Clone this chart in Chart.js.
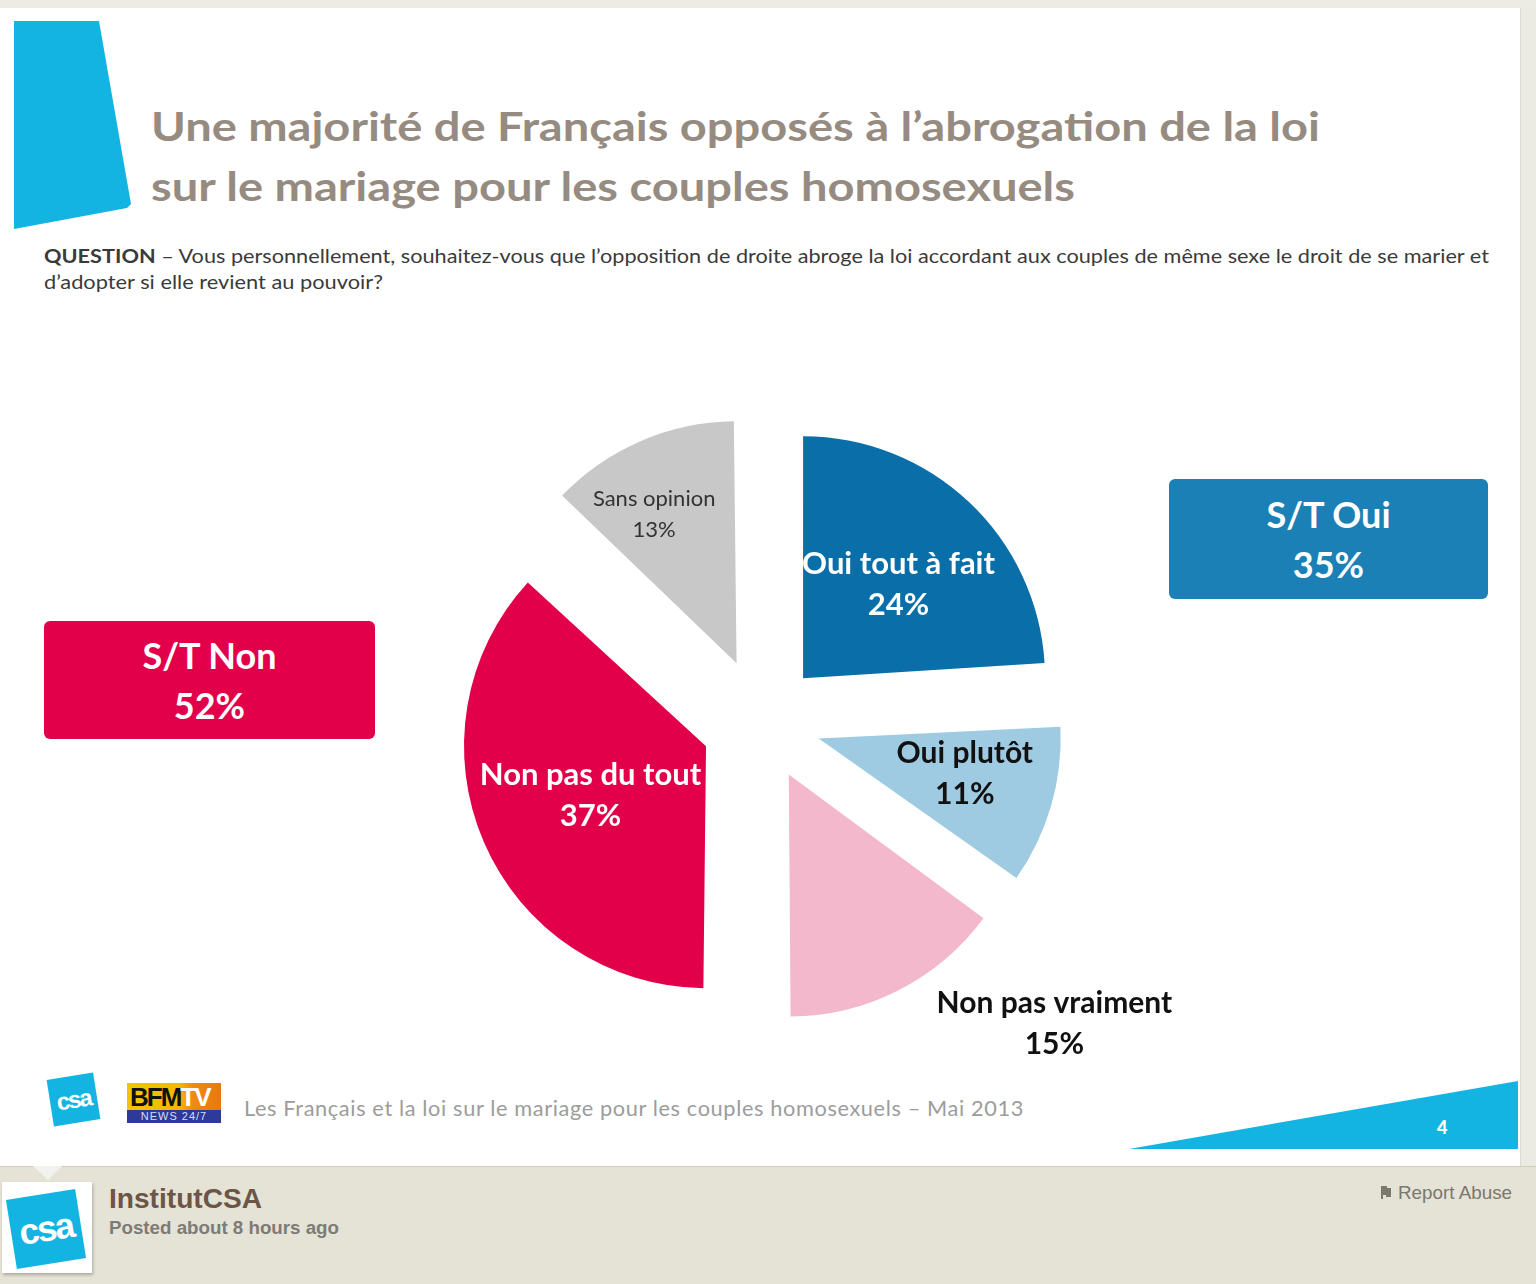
<!DOCTYPE html>
<html lang="fr">
<head>
<meta charset="utf-8">
<script src="https://cdn.jsdelivr.net/npm/chart.js@4/dist/chart.umd.min.js"></script>
<style>
  html,body{margin:0;padding:0;}
  body{width:1536px;height:1284px;position:relative;overflow:hidden;background:#e5e2d6;font-family:Lato,"Open Sans",sans-serif;}
  .abs{position:absolute;white-space:nowrap;}
  #topstrip{left:0;top:0;width:1536px;height:8px;background:#ecebe4;}
  #rightstrip{left:1520px;top:8px;width:16px;height:1158px;background:#ebeae3;border-left:1px solid #dcdbd3;}
  #slide{left:0;top:8px;width:1520px;height:1158px;background:#fff;}
  #footline{left:0;top:1166px;width:1536px;height:1px;background:#cfccc1;}
  .title{font-weight:700;font-size:40px;line-height:40px;color:#968b81;}
  .question{font-size:19px;line-height:26px;color:#3a3a3a;}
  .box{border-radius:6px;color:#fff;font-weight:700;font-size:36px;line-height:50px;text-align:center;display:flex;flex-direction:column;justify-content:center;align-items:center;}
  .box span{display:block;}
  #foottext{font-size:21px;line-height:28px;color:#9c9c9c;letter-spacing:0.6px;}
  .csa{background:#14b4e2;color:#fff;font-family:"Liberation Sans",Arial,sans-serif;font-weight:700;display:flex;align-items:center;justify-content:center;letter-spacing:-2px;}
  #author{font-family:"Liberation Sans",Arial,sans-serif;font-weight:700;font-size:28px;line-height:32px;color:#6b5647;}
  #posted{font-family:"Liberation Sans",Arial,sans-serif;font-weight:700;font-size:18.7px;line-height:22px;color:#7d7b76;}
  #report{font-family:"Liberation Sans",Arial,sans-serif;font-size:18.6px;line-height:22px;color:#7b786d;}
  #chartwrap{left:332px;top:352px;width:860px;height:740px;}
</style>
</head>
<body>
<div class="abs" id="topstrip"></div>
<div class="abs" id="slide"></div>
<div class="abs" id="rightstrip"></div>
<div class="abs" id="footline"></div>

<svg class="abs" style="left:0;top:0" width="1536" height="1284">
  <polygon points="14,21 99,21 131,204 127,208 14,229" fill="#14b4e2"/>
  <polygon points="1129,1149 1518,1081 1518,1149" fill="#14b4e2"/>
  <polygon points="33,1166 62,1166 48,1180" fill="#f3f2ee"/>
</svg>
<div class="abs" style="left:1437px;top:1117px;font-weight:900;font-size:18px;line-height:20px;color:#fff;">4</div>

<div class="abs title" id="t1" data-w="1169" style="left:151px;top:106px;">Une majorité de Français opposés à l’abrogation de la loi</div>
<div class="abs title" id="t2" data-w="924" style="left:151px;top:166px;">sur le mariage pour les couples homosexuels</div>

<div class="abs question" data-w="1445" style="left:44px;top:243px;"><b>QUESTION</b> – Vous personnellement, souhaitez-vous que l’opposition de droite abroge la loi accordant aux couples de même sexe le droit de se marier et</div>
<div class="abs question" data-w="339" style="left:44px;top:269px;">d’adopter si elle revient au pouvoir?</div>

<div class="abs box" style="left:44px;top:621px;width:331px;height:118px;background:#e2004a;"><span>S/T Non</span><span>52%</span></div>
<div class="abs box" style="left:1169px;top:479px;width:319px;height:120px;background:#1a80b6;"><span>S/T Oui</span><span>35%</span></div>

<div class="abs" id="chartwrap"><canvas id="c" width="860" height="740"></canvas></div>

<!-- slide footer -->
<div class="abs csa" style="left:50px;top:1076px;width:47px;height:47px;font-size:24px;transform:rotate(-9deg);">csa</div>
<div class="abs" style="left:127px;top:1083px;width:94px;height:40px;">
  <div style="position:absolute;left:0;top:0;width:94px;height:27px;background:linear-gradient(90deg,#f5c400 0%,#f5b800 55%,#ef8a12 70%,#e8780f 100%);"></div>
  <div style="position:absolute;left:3px;top:0;font-family:'Liberation Sans',Arial,sans-serif;font-weight:900;font-size:26px;line-height:28px;color:#111;letter-spacing:-2px;">BFM<span style="color:#fff;">TV</span></div>
  <div style="position:absolute;left:0;top:27px;width:94px;height:13px;background:#2d3a99;color:#d6dcff;font-family:'Liberation Sans',Arial,sans-serif;font-size:11px;line-height:13px;text-align:center;letter-spacing:1px;">NEWS 24/7</div>
</div>
<div class="abs" id="foottext" data-w="780" style="left:244px;top:1094px;">Les Français et la loi sur le mariage pour les couples homosexuels – Mai 2013</div>

<!-- page footer -->
<div class="abs" style="left:2px;top:1182px;width:90px;height:91px;background:#fff;box-shadow:1px 2px 3px rgba(0,0,0,0.25);"></div>
<div class="abs csa" style="left:11px;top:1194px;width:70px;height:70px;font-size:36px;transform:rotate(-9deg);">csa</div>
<div class="abs" id="author" data-w="153" style="left:109px;top:1183px;">InstitutCSA</div>
<div class="abs" id="posted" data-w="230" style="left:109px;top:1217px;">Posted about 8 hours ago</div>
<svg class="abs" style="left:1380px;top:1186px" width="12" height="14"><path d="M1,1 L1,13 L3,13 L3,9 L6,9 L6,11 L11,11 L11,2 L7,2 L7,0 L1,0 Z" fill="#7b786d"/></svg>
<div class="abs" id="report" data-w="114" style="left:1398px;top:1182px;">Report Abuse</div>

<script>
// ---- data ----
const categories = ['Oui tout à fait', 'Oui plutôt', 'Non pas vraiment', 'Non pas du tout', 'Sans opinion'];
const values = [24, 11, 15, 37, 13];
const sliceColors = ['#0a6fa8', '#9fcbe2', '#f4b8cc', '#e2004a', '#c8c8c8'];
const sliceOffsets = [240, 236, 236, 244, 256];

// label styling (position as fraction of radius from pie centre, plus nudge)
const labelDist = [0.80, 0.864, 1.66, 0.772, 0.966];
const labelNudge = [[4, 4], [2, -7], [110, -56], [0, -1], [-15, 7]];
const labelColors = ['#ffffff', '#111111', '#111111', '#ffffff', '#333333'];
const labelFonts = ['700 31px Lato', '700 30px Lato', '700 30px Lato', '700 31px Lato', '400 22px Lato'];
const labelGap = [41, 41, 41, 41, 31];

const fixRadius = {
  id: 'fixRadius',
  beforeDatasetsDraw(chart) {
    const meta = chart.getDatasetMeta(0);
    const R = meta.controller.outerRadius;
    meta.data.forEach(arc => {
      const fix = 1 - Math.sin(Math.min(Math.PI, arc.circumference));
      arc.outerRadius = R - ((arc.options.offset || 0) / 4) * fix;
    });
  }
};

const sliceLabels = {
  id: 'sliceLabels',
  afterDatasetsDraw(chart) {
    const ctx = chart.ctx;
    const meta = chart.getDatasetMeta(0);
    const R = meta.controller.outerRadius;
    meta.data.forEach((arc, i) => {
      const mid = (arc.startAngle + arc.endAngle) / 2;
      const d = labelDist[i] * R;
      const x = arc.x + Math.cos(mid) * d + labelNudge[i][0];
      const y = arc.y + Math.sin(mid) * d + labelNudge[i][1];
      ctx.save();
      ctx.font = labelFonts[i];
      ctx.fillStyle = labelColors[i];
      ctx.textAlign = 'center';
      ctx.textBaseline = 'middle';
      ctx.fillText(categories[i], x, y - labelGap[i] / 2);
      ctx.fillText(values[i] + '%', x, y + labelGap[i] / 2);
      ctx.restore();
    });
  }
};

new Chart(document.getElementById('c'), {
  type: 'pie',
  data: {
    labels: categories,
    datasets: [{
      data: values,
      backgroundColor: sliceColors,
      borderWidth: 0,
      offset: sliceOffsets,
      hoverOffset: 0,
      clip: false
    }]
  },
  options: {
    responsive: false,
    animation: false,
    events: [],
    radius: 242,
    layout: { padding: 0 },
    plugins: { legend: { display: false }, tooltip: { enabled: false } }
  },
  plugins: [fixRadius, sliceLabels]
});

function fitTexts() {
  document.querySelectorAll('[data-w]').forEach(el => {
    el.style.transform = 'none';
    const w = el.getBoundingClientRect().width;
    const target = parseFloat(el.dataset.w);
    el.style.transformOrigin = 'left top';
    el.style.transform = 'scaleX(' + (target / w) + ')';
  });
}
fitTexts();
</script>
</body>
</html>
